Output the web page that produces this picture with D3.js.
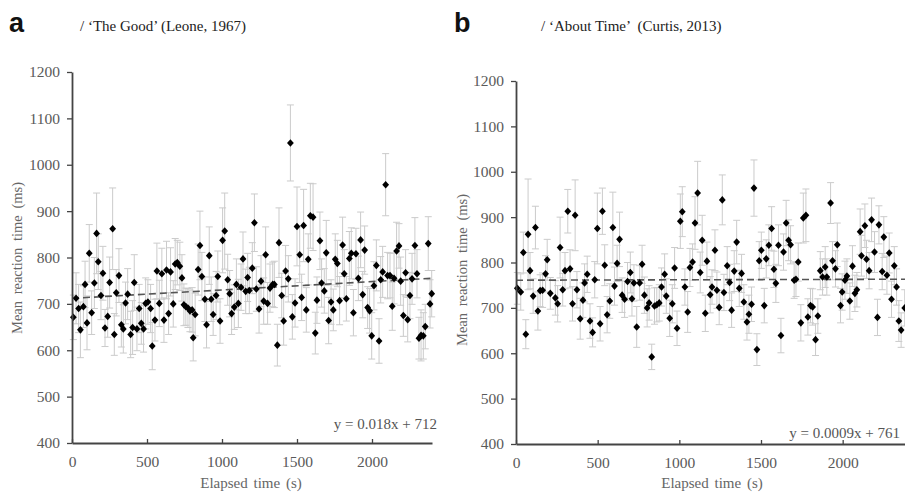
<!DOCTYPE html>
<html><head><meta charset="utf-8">
<script src="https://cdn.jsdelivr.net/npm/d3@7"></script>
<style>
html,body{margin:0;padding:0;background:#fff;}
svg{display:block;}
text{font-family:"Liberation Serif","Times New Roman",serif;}
</style></head>
<body>
<script>
// ---------- DATA ----------
const yTicks = [400, 500, 600, 700, 800, 900, 1000, 1100, 1200];
const xTicks = [0, 500, 1000, 1500, 2000];

const timeA = [
9,27,44,56,76,87,100,115,131,149,
164,175,193,206,220,238,251,271,282,295,
313,329,342,357,371,391,404,415,433,448,
462,477,491,506,524,535,553,566,582,599,
613,630,644,657,675,688,702,719,733,746,
759,773,786,801,808,821,841,853,866,886,
897,915,928,941,961,972,987,1004,1018,1038,
1051,1064,1082,1096,1109,1127,1140,1158,1171,1182,
1202,1216,1229,1247,1260,1278,1291,1304,1320,1338,
1349,1369,1380,1398,1411,1424,1442,1456,1469,1487,
1500,1518,1531,1544,1562,1575,1589,1607,1622,1633,
1653,1664,1682,1695,1711,1727,1742,1755,1769,1784,
1804,1815,1829,1849,1862,1876,1893,1909,1924,1938,
1951,1971,1984,1998,2013,2029,2047,2058,2071,2091,
2104,2120,2135,2147,2164,2180,2191,2209,2224,2238,
2253,2267,2286,2300,2313,2327,2342,2355,2375,2387,
2398];
const rtA = [
671,712,690,644,694,742,659,809,681,745,
852,791,718,766,648,673,746,862,634,724,
761,655,646,702,721,634,649,746,646,690,
658,646,701,704,690,609,665,771,701,765,
665,773,679,769,700,786,789,781,756,698,
694,691,685,687,627,677,774,826,759,710,
655,804,710,677,718,759,663,837,857,752,
722,679,693,742,701,736,797,727,757,729,
777,875,732,689,749,706,806,701,734,742,
742,611,832,718,663,771,754,1047,672,702,
867,806,714,869,687,796,890,887,637,708,
836,745,728,810,664,704,687,796,787,707,
827,765,711,798,809,681,808,755,838,720,
816,692,685,631,739,783,620,752,769,957,
761,761,695,755,814,825,749,675,767,666,
718,754,826,765,626,632,631,651,830,700,
722];
const errA = [
48,55,52,60,45,50,58,62,47,55,
87,60,52,58,40,45,55,88,45,50,
58,48,52,45,55,50,58,60,47,52,
45,50,55,48,52,51,45,60,50,55,
48,62,45,52,50,55,48,52,50,45,
40,42,45,48,50,46,55,74,52,48,
50,62,48,45,52,55,48,70,82,55,
50,45,48,55,52,50,58,48,52,50,
55,62,48,52,55,50,60,45,52,48,
50,45,75,48,52,55,50,82,48,52,
85,60,50,78,48,55,70,72,45,50,
62,52,48,70,50,48,45,55,50,52,
60,52,48,58,55,50,55,48,60,50,
52,45,48,50,52,55,48,50,55,67,
50,48,52,55,62,48,52,45,50,48,
50,55,60,52,45,55,50,48,58,52,
50];

const timeB = [
8,29,45,60,74,86,105,119,134,148,
163,181,191,210,241,255,270,286,300,317,
331,346,362,373,393,410,420,436,453,469,
482,498,515,529,543,558,574,593,603,619,
634,650,665,683,700,710,722,739,757,772,
786,803,815,831,848,862,877,891,910,920,
941,957,971,986,1006,1018,1034,1051,1065,1081,
1096,1112,1128,1140,1159,1169,1189,1200,1218,1230,
1244,1263,1273,1293,1308,1320,1336,1351,1367,1381,
1395,1414,1426,1442,1457,1475,1489,1502,1520,1532,
1548,1565,1579,1591,1607,1622,1638,1654,1669,1681,
1703,1714,1728,1744,1759,1775,1787,1803,1816,1834,
1848,1863,1877,1893,1903,1926,1938,1956,1967,1987,
1997,2014,2026,2044,2060,2075,2087,2107,2115,2136,
2146,2162,2177,2195,2213,2222,2242,2252,2271,2285,
2299,2316,2330,2344,2358,2380];
const rtB = [
743,735,822,642,862,782,726,877,693,738,
739,775,806,732,722,709,833,740,782,913,
786,709,904,740,676,717,755,774,671,646,
762,875,665,913,794,685,715,877,748,798,
851,728,719,758,778,720,755,658,755,796,
728,700,711,592,704,707,711,746,774,726,
677,709,788,655,891,912,746,691,789,801,
887,953,778,849,688,803,729,746,827,739,
701,938,734,793,756,695,781,845,743,776,
713,669,686,708,964,608,804,827,705,808,
838,875,785,754,838,639,823,887,849,839,
761,763,801,667,898,904,680,705,702,630,
682,782,768,790,768,931,804,786,839,705,
735,761,770,715,792,732,740,868,815,881,
807,782,894,823,679,883,780,856,772,821,
719,793,746,671,651,700];
const errB = [
35,40,45,32,122,40,38,47,42,35,
38,40,45,35,38,40,67,36,40,48,
42,38,78,40,45,38,42,40,38,32,
40,78,38,51,45,40,38,78,42,40,
60,38,40,42,45,38,40,45,38,42,
40,42,38,28,40,38,40,42,45,38,
40,42,45,38,60,55,40,45,42,40,
58,70,45,55,40,42,40,38,45,40,
38,55,40,42,40,38,45,48,40,42,
38,40,42,38,62,35,42,40,38,42,
45,48,40,42,45,38,40,50,45,42,
40,38,42,40,55,58,40,38,40,35,
38,42,40,45,40,45,42,40,48,38,
40,42,38,40,45,40,38,50,45,48,
42,40,48,45,40,42,40,45,42,44,
40,42,40,45,38,40];

const trendA = [0.018, 712];
const trendB = [0.0009, 761];
const eqA = "y = 0.018x + 712";
const eqB = "y = 0.0009x + 761";
const titleA = "/ \u2018The Good\u2019 (Leone, 1967)";
const titleB = "/ \u2018About Time\u2019  (Curtis, 2013)";

// ---------- DRAW ----------
const W = 905, H = 492;
const SERIF = '"Liberation Serif", "Times New Roman", serif';
const svg = d3.select("body").append("svg").attr("width", W).attr("height", H);

const diamond = {
  draw(ctx, size) {
    const r = Math.sqrt(size) / 2;
    ctx.moveTo(0, -r * 1.12); ctx.lineTo(r, 0); ctx.lineTo(0, r * 1.12); ctx.lineTo(-r, 0); ctx.closePath();
  }
};

function panel(cfg) {
  const x = d3.scaleLinear().domain([0, 2400]).range(cfg.xr);
  const y = d3.scaleLinear().domain([400, 1200]).range(cfg.yr);
  const g = svg.append("g");
  const data = cfg.t.map((t, i) => ({ t, v: cfg.v[i], e: cfg.e[i] }));

  // error bars
  const eb = g.append("g").attr("stroke", "#cbcbcb").attr("stroke-width", 1).attr("fill", "none");
  data.forEach(d => {
    const cx = x(d.t);
    eb.append("line").attr("x1", cx).attr("x2", cx).attr("y1", y(d.v - d.e)).attr("y2", y(d.v + d.e));
    eb.append("line").attr("x1", cx - 3.5).attr("x2", cx + 3.5).attr("y1", y(d.v - d.e)).attr("y2", y(d.v - d.e));
    eb.append("line").attr("x1", cx - 3.5).attr("x2", cx + 3.5).attr("y1", y(d.v + d.e)).attr("y2", y(d.v + d.e));
  });

  // trend line
  g.append("line")
    .attr("x1", x(0)).attr("x2", x(2400))
    .attr("y1", y(cfg.trend[1])).attr("y2", y(cfg.trend[0] * 2400 + cfg.trend[1]))
    .attr("stroke", "#555").attr("stroke-width", 1.6).attr("stroke-dasharray", "7,4");

  // markers
  g.append("g").selectAll("path").data(data).join("path")
    .attr("d", d3.symbol().type(diamond).size(46))
    .attr("transform", d => `translate(${x(d.t)},${y(d.v)})`)
    .attr("fill", "#000");

  // axes
  const ya = g.append("g").attr("transform", `translate(${cfg.xr[0]},0)`)
    .call(d3.axisLeft(y).tickValues(yTicks).tickSizeInner(5).tickSizeOuter(0).tickPadding(7).tickFormat(d3.format("d")));
  const xa = g.append("g").attr("transform", `translate(0,${cfg.yr[0]})`)
    .call(d3.axisBottom(x).tickValues(xTicks).tickSizeInner(-4).tickSizeOuter(0).tickPadding(13).tickFormat(d3.format("d")));
  [ya, xa].forEach(a => {
    a.attr("font-family", SERIF).attr("font-size", 15.5);
    a.select(".domain").attr("stroke", "#444").attr("stroke-width", 1.8);
    a.selectAll(".tick line").attr("stroke", "#444").attr("stroke-width", 1.3);
    a.selectAll(".tick text").attr("fill", "#5a5a5a").style("font-size", "15.5px")
      .style("font-family", SERIF);
  });

  // axis titles
  g.append("text").attr("transform", `translate(${cfg.ylx},${cfg.yly}) rotate(-90)`)
    .attr("text-anchor", "middle").attr("fill", "#666").style("font-size", "14.5px").style("word-spacing", "3px")
    .text("Mean reaction time (ms)");
  g.append("text").attr("x", cfg.xlx).attr("y", 488)
    .attr("text-anchor", "middle").attr("fill", "#666").style("font-size", "15px").style("word-spacing", "2px")
    .text("Elapsed time (s)");

  // equation
  g.append("text").attr("x", cfg.eqx).attr("y", cfg.eqy).attr("text-anchor", "end")
    .attr("fill", "#555").style("font-size", "15px").text(cfg.eq);

  // panel letter + title
  g.append("text").attr("x", cfg.lx).attr("y", 32)
    .style("font-family", '"Liberation Sans", Arial, sans-serif').style("font-weight", "bold")
    .style("font-size", "27px").attr("fill", "#111").text(cfg.letter);
  g.append("text").attr("x", cfg.tx).attr("y", 31).attr("fill", "#222")
    .style("font-size", "15px").style("white-space", "pre").text(cfg.title);
}

panel({ t: timeA, v: rtA, e: errA, xr: [72, 432], yr: [443, 72], trend: trendA,
  ylx: 22, yly: 258, xlx: 251, eq: eqA, eqx: 437, eqy: 429,
  letter: "a", lx: 9, title: titleA, tx: 80 });
panel({ t: timeB, v: rtB, e: errB, xr: [516, 908], yr: [444, 81], trend: trendB,
  ylx: 467, yly: 270, xlx: 712, eq: eqB, eqx: 900, eqy: 438,
  letter: "b", lx: 454, title: titleB, tx: 541 });
</script>
</body></html>
